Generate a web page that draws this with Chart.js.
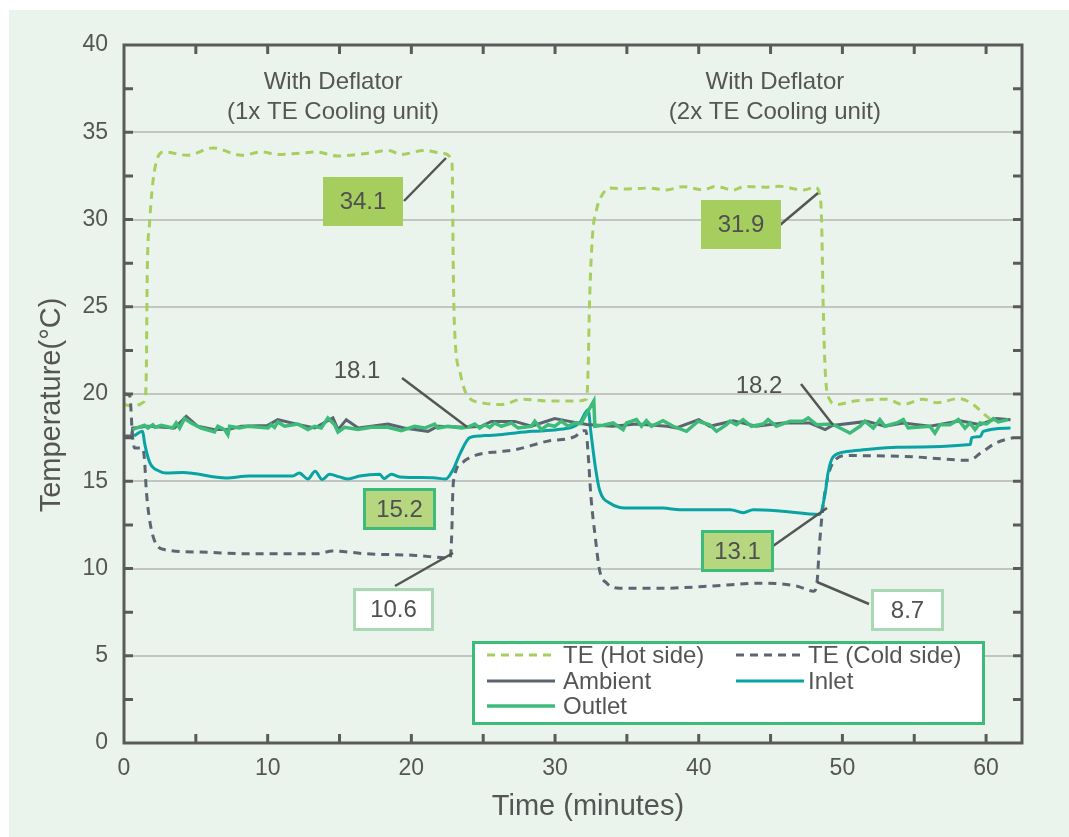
<!DOCTYPE html>
<html>
<head>
<meta charset="utf-8">
<script src="https://cdn.jsdelivr.net/npm/chart.js@4.4.1/dist/chart.umd.min.js"></script>
<style>
  html, body { margin: 0; padding: 0; background: #ffffff; overflow: hidden; }
  #chart { display: block; }
</style>
</head>
<body>
<canvas id="chart" width="1069" height="837"></canvas>
<script>
// ---- Measured temperatures (time in minutes, temperature in °C) ----
const hotTime = [0, 0.7, 1.3, 1.45, 1.55, 1.62, 1.78, 2.1, 2.8, 4.4, 6.2, 8.2, 9.6, 10.7, 12.3, 13.3, 14.9, 17.0, 18.4, 19.3, 20.9, 22.1, 22.8,
  22.85, 22.92, 23.0, 23.4, 23.9, 24.9, 26.3, 27.7, 29.5, 31.4, 32.2, 32.3, 32.4, 32.6, 32.9, 33.35, 33.8, 35.0, 36.5, 37.75, 38.9, 40.3,
  41.2, 42.4, 43.2, 44.7, 45.6, 47.3, 48.1, 48.4, 48.55, 48.66, 48.8, 49.1, 49.6, 50.75, 53.1, 54.2, 55.6, 56.6, 58.1, 59.1, 60.0, 60.6, 61.3];
const hotTemp = [19.4, 19.3, 19.5, 19.7, 21.2, 27.0, 29.8, 32.7, 33.87, 33.68, 34.1, 33.68, 33.87, 33.73, 33.8, 33.87, 33.64, 33.8, 33.96, 33.73, 33.96, 33.8, 33.45,
  32.7, 27.0, 23.9, 21.2, 19.9, 19.5, 19.4, 19.7, 19.6, 19.6, 19.7, 21.4, 25.2, 29.0, 30.6, 31.5, 31.8, 31.75, 31.8, 31.69, 31.88, 31.7,
  31.9, 31.69, 31.9, 31.85, 31.9, 31.69, 31.85, 31.5, 30.0, 25.2, 21.4, 19.7, 19.4, 19.58, 19.7, 19.4, 19.7, 19.5, 19.74, 19.4, 18.75, 18.46, 18.5];

const coldTime = [0, 0.4, 0.6, 0.75, 1.3, 1.43, 1.55, 1.78, 2.1, 2.7, 5.3, 8.7, 13.4, 14.5, 16.9, 20.3, 22.7, 22.82, 22.88, 23.0, 23.6, 24.5,
  26.1, 27.2, 29.5, 31.4, 31.8, 32.15, 32.3, 32.5, 32.8, 33.1, 33.6, 34.5, 37.5, 41.0, 44.5, 46.8, 48.0, 48.25, 48.4, 48.65, 49.0, 49.6,
  50.3, 54.9, 58.8, 59.6, 60.7, 61.9];
const coldTemp = [20.0, 19.9, 17.5, 16.9, 16.9, 16.2, 14.5, 12.8, 11.65, 11.1, 10.94, 10.84, 10.84, 11.0, 10.84, 10.75, 10.6, 12.2, 14.3, 15.3, 16.1, 16.5,
  16.7, 16.8, 17.3, 17.57, 17.86, 17.9, 16.6, 14.1, 11.8, 9.9, 9.16, 8.87, 8.87, 9.0, 9.16, 9.0, 8.7, 9.35, 11.3, 13.55, 15.3, 16.3,
  16.47, 16.4, 16.2, 16.6, 17.2, 17.5];

const ambientTime = [0, 0.55, 0.6, 1.66, 3.52, 4.33, 5.14, 6.3, 7.23, 8.16, 10.0, 10.7, 12.1, 13.27, 14.54, 14.9, 15.47, 16.3, 18.37, 19.5,
  21.16, 21.85, 23.83, 24.87, 25.57, 27.2, 28.36, 29.98, 31.0, 32.2, 34.0, 35.67, 37.8, 38.44, 40.0, 40.77, 42.4, 44.0, 45.88, 47.7,
  48.8, 49.3, 51.7, 52.96, 54.24, 56.1, 58.2, 59.58, 60.7, 61.7];
const ambientTemp = [17.6, 17.6, 18.05, 18.15, 18.05, 18.72, 18.15, 17.96, 17.96, 18.15, 18.2, 18.53, 18.25, 18.05, 18.63, 17.96, 18.53, 18.05, 18.28, 18.05,
  17.86, 18.15, 18.1, 18.15, 18.43, 18.43, 18.15, 18.59, 18.43, 18.25, 18.15, 18.28, 18.15, 18.05, 18.53, 18.15, 18.47, 18.15, 18.34, 18.34,
  17.96, 18.2, 18.43, 18.15, 18.34, 18.15, 18.47, 18.24, 18.59, 18.53];

const inletTime = [0.7, 1.3, 1.43, 1.78, 2.47, 2.94, 4.1, 7.1, 8.7, 11.75, 12.2, 12.8, 13.3, 13.8, 14.3, 15.0, 15.6, 16.4, 17.8, 18.1, 18.6,
  19.2, 21.5, 22.4, 22.9, 23.4, 24.06, 24.8, 26.1, 28.4, 30.2, 31.7, 32.3, 32.5, 32.8, 33.1, 33.8, 35.2, 37.5, 38.7, 42.2, 43.1, 43.8,
  45.6, 48.4, 48.8, 49.0, 49.36, 50.3, 51.45, 53.8, 58.9, 59.0, 59.6, 59.8, 61.7];
const inletTemp = [17.6, 17.86, 17.2, 16.1, 15.57, 15.47, 15.5, 15.19, 15.3, 15.3, 15.47, 15.13, 15.57, 15.1, 15.4, 15.25, 15.13, 15.3, 15.4, 15.15, 15.4,
  15.25, 15.2, 15.13, 15.66, 16.6, 17.5, 17.6, 17.67, 17.86, 17.96, 18.34, 19.1, 17.77, 15.85, 14.5, 13.75, 13.46, 13.46, 13.37, 13.37, 13.2, 13.37,
  13.3, 13.1, 14.3, 15.47, 16.4, 16.7, 16.8, 16.95, 17.1, 17.5, 17.57, 17.86, 18.05];

const outletTime = [0.6, 0.85, 1.43, 1.66, 2.01, 2.17, 2.59, 3.4, 3.63, 3.87, 4.21, 4.68, 5.37, 6.3, 6.53, 7.0, 7.23, 7.35, 8.04, 8.62,
  10.02, 10.25, 10.48, 10.71, 11.18, 12.1, 12.8, 13.27, 13.73, 14.19, 14.66, 14.89, 15.36, 16.28, 17.21, 18.37, 19.3, 20.23, 20.93, 21.62,
  21.85, 22.55, 23.48, 23.94, 24.41, 24.76, 25.1, 25.45, 25.8, 26.26, 26.96, 27.43, 28.35, 28.59, 29.05, 29.51, 29.98, 30.44, 30.91, 31.37,
  31.8, 32.7, 32.77, 33.35, 34.04, 34.74, 34.97, 35.67, 36.02, 36.36, 36.71, 37.52, 38.22, 39.15, 39.96, 40.77, 41.24, 41.93, 42.17, 42.63,
  43.09, 43.67, 44.49, 44.83, 45.41, 46.35, 47.27, 47.62, 48.2, 49.25, 49.59, 50.52, 51.22, 51.56, 52.15, 52.61, 52.96, 53.77, 54.24, 54.58,
  56.09, 56.44, 56.79, 57.48, 58.07, 58.53, 58.88, 59.23, 59.58, 60.04, 60.5, 60.85, 61.55];
const outletTemp = [17.95, 18.05, 18.21, 18.05, 18.24, 18.09, 18.21, 18.05, 18.34, 18.05, 18.59, 18.34, 18.05, 17.82, 18.15, 17.96, 17.67, 18.15, 18.05, 18.15,
  18.05, 18.24, 18.09, 18.4, 18.15, 18.28, 17.96, 18.15, 18.05, 18.63, 18.24, 17.82, 18.09, 17.96, 18.09, 18.09, 17.9, 18.15, 18.05, 18.28,
  18.05, 18.15, 18.05, 18.11, 18.28, 18.05, 18.24, 18.09, 18.34, 18.15, 18.34, 18.05, 18.15, 18.44, 17.96, 18.24, 18.15, 18.44, 18.15, 18.34,
  18.3, 19.6, 18.15, 18.21, 18.34, 17.96, 18.34, 18.53, 18.15, 18.47, 18.15, 18.47, 18.15, 17.86, 18.44, 18.24, 17.86, 18.24, 18.44, 18.24,
  18.53, 18.15, 18.28, 18.53, 18.15, 18.44, 18.44, 18.63, 18.24, 18.28, 18.15, 17.76, 18.15, 18.44, 18.05, 18.53, 18.15, 18.34, 18.53, 18.05,
  18.15, 17.76, 18.24, 18.24, 18.53, 18.05, 18.34, 17.96, 18.34, 18.28, 18.59, 18.4, 18.53];

const seriesNames = ['TE (Hot side)', 'TE (Cold side)', 'Ambient', 'Inlet', 'Outlet'];
const phaseTitles = [['With Deflator', '(1x TE Cooling unit)'], ['With Deflator', '(2x TE Cooling unit)']];
const calloutLabels = ['34.1', '31.9', '18.1', '18.2', '15.2', '13.1', '10.6', '8.7'];
const xAxisTitle = 'Time (minutes)';
const yAxisTitle = 'Temperature(°C)';

// ---- Styling ----
const FONT = '"Liberation Sans", Arial, Helvetica, sans-serif';
const TEXT = '#555555';
const AXIS = '#5a5a5a';
const PANEL = '#eaf4ec';
const HOT = '#a6cf5f';
const COLD = '#5a6672';
const AMBIENT = '#5c6470';
const INLET = '#0aa3a4';
const OUTLET = '#3dbb78';

const pts = (xs, ys) => xs.map((x, i) => ({ x, y: ys[i] }));

// callout boxes: [left, top, right, bottom], style, leader line [x1,y1,x2,y2]
const calloutLayout = [
  { box: [323, 177, 403, 226], kind: 'solid', leader: [404, 201, 446, 158] },
  { box: [701, 200, 781, 249], kind: 'solid', leader: [780, 225, 818, 193] },
  { text: [357, 370], leader: [402, 378, 467, 427] },
  { text: [759, 385], leader: [801, 384, 833, 425] },
  { box: [363, 488, 436, 530], kind: 'framed' },
  { box: [701, 530, 774, 572], kind: 'framed', leader: [773, 546, 827, 508] },
  { box: [353, 588, 434, 631], kind: 'open', leader: [395, 586, 453, 553] },
  { box: [871, 589, 944, 631], kind: 'open', leader: [817, 582, 869, 604] }
];

const boxStyles = {
  solid: { fill: '#a5ce5f', stroke: null },
  framed: { fill: '#b6d77f', stroke: '#3dbb78' },
  open: { fill: '#ffffff', stroke: '#a9d8b5' }
};

const panelPlugin = {
  id: 'panel',
  beforeDraw(chart) {
    const { ctx, width, height } = chart;
    ctx.save();
    ctx.fillStyle = '#ffffff';
    ctx.fillRect(0, 0, width, height);
    ctx.fillStyle = PANEL;
    ctx.fillRect(9, 10, width - 9, height - 10);
    ctx.restore();
  }
};

const framePlugin = {
  id: 'frame',
  afterDatasetsDraw(chart) {
    const { ctx, chartArea: a, scales: { x, y } } = chart;
    ctx.save();
    ctx.strokeStyle = AXIS;
    ctx.lineWidth = 3;
    ctx.beginPath();
    for (let v = 5; v < x.max; v += 5) {
      const px = x.getPixelForValue(v);
      ctx.moveTo(px, a.bottom); ctx.lineTo(px, a.bottom - 9);
      ctx.moveTo(px, a.top); ctx.lineTo(px, a.top + 9);
    }
    for (let v = 2.5; v < y.max; v += 2.5) {
      const py = y.getPixelForValue(v);
      ctx.moveTo(a.left, py); ctx.lineTo(a.left + 9, py);
      ctx.moveTo(a.right, py); ctx.lineTo(a.right - 9, py);
    }
    ctx.stroke();
    ctx.strokeRect(a.left, a.top, a.right - a.left, a.bottom - a.top);

    // axis titles
    ctx.fillStyle = TEXT;
    ctx.font = '29px ' + FONT;
    ctx.textAlign = 'center';
    ctx.textBaseline = 'middle';
    ctx.fillText(xAxisTitle, 588, 807);
    ctx.save();
    ctx.translate(52, 405);
    ctx.rotate(-Math.PI / 2);
    ctx.fillText(yAxisTitle, 0, 0);
    ctx.restore();

    // phase titles
    ctx.font = '24px ' + FONT;
    const centers = [x.getPixelForValue(14.55), x.getPixelForValue(45.3)];
    phaseTitles.forEach((lines, i) => {
      ctx.fillText(lines[0], centers[i], 82);
      ctx.fillText(lines[1], centers[i], 112);
    });

    // callouts
    ctx.lineWidth = 3;
    calloutLayout.forEach((c, i) => {
      if (c.leader) {
        ctx.strokeStyle = '#555555';
        ctx.lineWidth = 2.5;
        ctx.beginPath();
        ctx.moveTo(c.leader[0], c.leader[1]);
        ctx.lineTo(c.leader[2], c.leader[3]);
        ctx.stroke();
      }
      let cx, cy;
      if (c.box) {
        const [l, t, r, b] = c.box;
        const st = boxStyles[c.kind];
        ctx.fillStyle = st.fill;
        ctx.fillRect(l, t, r - l, b - t);
        if (st.stroke) {
          ctx.strokeStyle = st.stroke;
          ctx.lineWidth = 3;
          ctx.strokeRect(l + 1.5, t + 1.5, r - l - 3, b - t - 3);
        }
        cx = (l + r) / 2; cy = (t + b) / 2;
      } else {
        [cx, cy] = c.text;
      }
      ctx.fillStyle = '#505050';
      ctx.font = '24px ' + FONT;
      ctx.fillText(calloutLabels[i], cx, cy + 1);
    });

    // legend
    const L = { l: 472, t: 641, r: 985, b: 725 };
    ctx.fillStyle = '#ffffff';
    ctx.fillRect(L.l, L.t, L.r - L.l, L.b - L.t);
    ctx.strokeStyle = OUTLET;
    ctx.lineWidth = 3;
    ctx.strokeRect(L.l + 1.5, L.t + 1.5, L.r - L.l - 3, L.b - L.t - 3);
    const slots = [[487, 655], [736, 655], [487, 681], [736, 681], [487, 706]];
    ctx.textAlign = 'left';
    ctx.font = '24px ' + FONT;
    chart.data.datasets.forEach((ds, i) => {
      const [sx, sy] = slots[i];
      ctx.save();
      ctx.strokeStyle = ds.borderColor;
      ctx.lineWidth = ds.borderWidth;
      ctx.setLineDash(ds.borderDash || []);
      ctx.beginPath();
      ctx.moveTo(sx, sy);
      ctx.lineTo(sx + 68, sy);
      ctx.stroke();
      ctx.restore();
      ctx.fillStyle = TEXT;
      ctx.fillText(ds.label, sx + (i % 2 === 0 ? 76 : 72), sy + 1);
    });
    ctx.restore();
  }
};

new Chart(document.getElementById('chart'), {
  type: 'line',
  data: {
    datasets: [
      { label: seriesNames[0], data: pts(hotTime, hotTemp), borderColor: HOT, borderWidth: 3, borderDash: [8, 6],
        cubicInterpolationMode: 'monotone', order: 4 },
      { label: seriesNames[1], data: pts(coldTime, coldTemp), borderColor: COLD, borderWidth: 3, borderDash: [8, 6],
        cubicInterpolationMode: 'monotone', order: 3 },
      { label: seriesNames[2], data: pts(ambientTime, ambientTemp), borderColor: AMBIENT, borderWidth: 3, tension: 0, order: 1 },
      { label: seriesNames[3], data: pts(inletTime, inletTemp), borderColor: INLET, borderWidth: 3,
        cubicInterpolationMode: 'monotone', order: 2 },
      { label: seriesNames[4], data: pts(outletTime, outletTemp), borderColor: OUTLET, borderWidth: 3.5, tension: 0, order: 0 }
    ]
  },
  options: {
    responsive: false,
    animation: false,
    devicePixelRatio: 1,
    elements: { point: { radius: 0 } },
    layout: { padding: { top: 45, right: 47, bottom: 0, left: 0 } },
    plugins: { legend: { display: false }, tooltip: { enabled: false } },
    scales: {
      x: {
        type: 'linear', min: 0, max: 62.5,
        afterFit(s) { s.height = 94; },
        grid: { display: false, drawTicks: false },
        border: { display: false },
        ticks: { stepSize: 10, includeBounds: false, padding: 12, color: TEXT, font: { family: FONT, size: 23 },
          maxRotation: 0, callback: v => (v % 10 === 0 ? v : '') }
      },
      y: {
        min: 0, max: 40,
        afterFit(s) { s.width = 124; },
        grid: { drawTicks: false, lineWidth: 2,
          color: c => (c.tick && (c.tick.value === 0 || c.tick.value === 40) ? 'rgba(0,0,0,0)' : '#c2c5c1') },
        border: { display: false },
        ticks: { stepSize: 5, padding: 16, color: TEXT, font: { family: FONT, size: 23 } }
      }
    }
  },
  plugins: [panelPlugin, framePlugin]
});
</script>
</body>
</html>
